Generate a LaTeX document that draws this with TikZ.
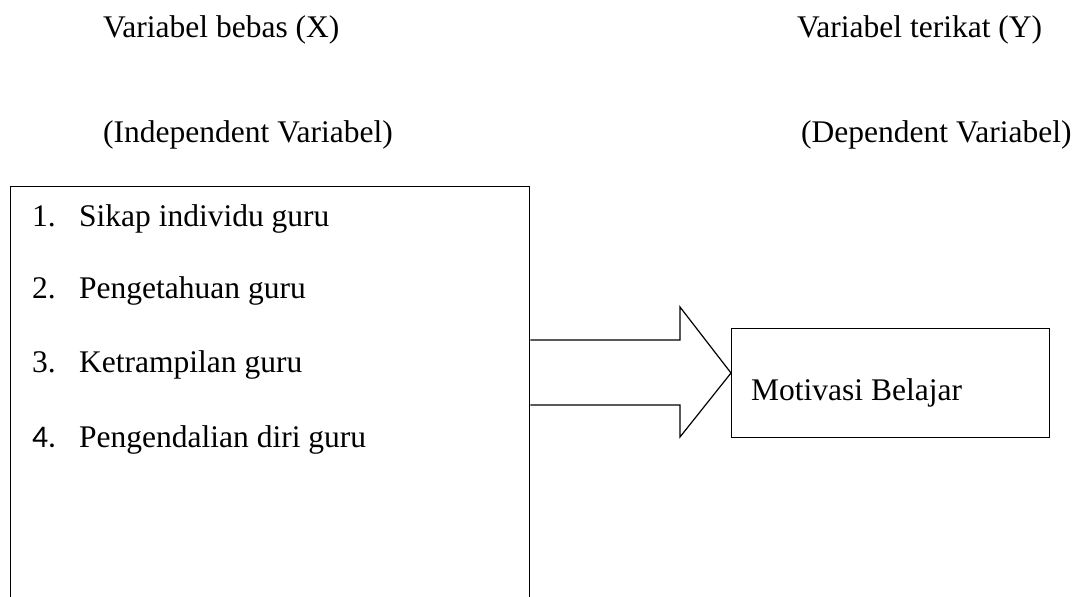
\documentclass[tikz,border=0pt]{standalone}
\usepackage{fontspec}
\setmainfont{Liberation Serif}
\newfontfamily\calibrilike{Carlito}
\begin{document}
\begin{tikzpicture}[x=1pt,y=-1pt,
  txt/.style={anchor=base west,inner sep=0pt,font=\fontsize{31.5}{38}\selectfont},
  frame/.style={draw,line width=1.3pt,inner sep=0pt,anchor=north west},
  bigarrow/.style={draw,line width=1.2pt,line join=miter}]
\useasboundingbox (0,0) rectangle (1082,597);
% headings
\node[txt] (hx1) at (103,37) {Variabel bebas (X)};
\node[txt] (hx2) at (103,142) {(Independent Variabel)};
\node[txt] (hy1) at (797,37) {Variabel terikat (Y)};
\node[txt] (hy2) at (801,142) {(Dependent Variabel)};
% left box (bottom edge lies below the picture)
\node[frame,minimum width=519pt,minimum height=520pt] (xbox) at (10,186) {};
\node[txt] (n1) at (32,226) {1.};
\node[txt] (i1) at (79,226) {Sikap individu guru};
\node[txt] (n2) at (32,298) {2.};
\node[txt] (i2) at (79,298) {Pengetahuan guru};
\node[txt] (n3) at (32,372) {3.};
\node[txt] (i3) at (79,372) {Ketrampilan guru};
\node[txt,font=\fontsize{31.5}{38}\calibrilike] (n4) at (32,447) {4.};
\node[txt] (i4) at (79,447) {Pengendalian diri guru};
% right box
\node[frame,minimum width=318pt,minimum height=109pt] (ybox) at (731,328) {};
\node[txt] (yt) at (751,400) {Motivasi Belajar};
% block arrow
\coordinate (xe) at (xbox.north east);
\coordinate (tip) at (ybox.west |- 0,373);
\draw[bigarrow] (xe |- 0,340) -- (680,340) -- (680,307) -- (tip)
  -- (680,437) -- (680,405) -- (xe |- 0,405);
\end{tikzpicture}
\end{document}
